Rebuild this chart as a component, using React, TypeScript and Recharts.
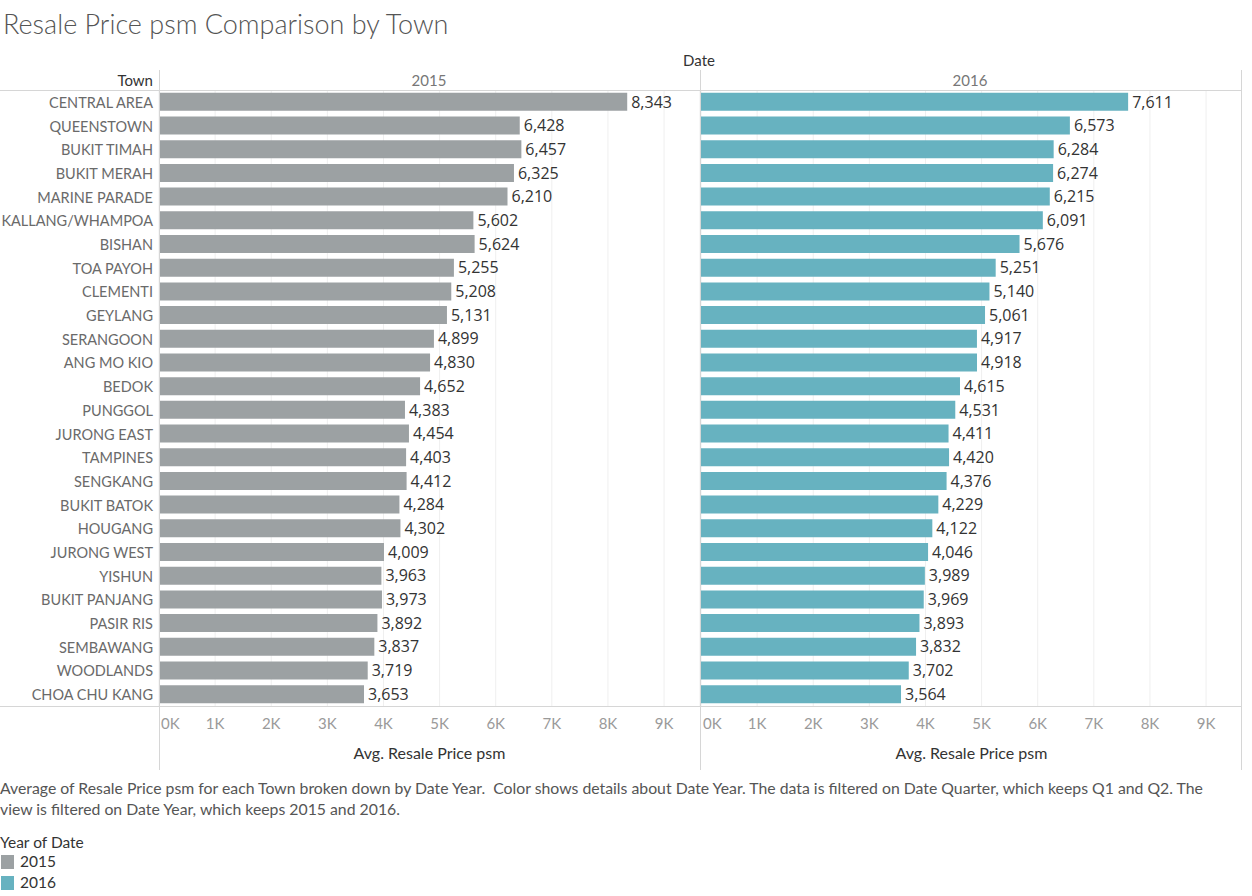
import { Bar, BarChart, CartesianGrid, LabelList, XAxis, YAxis } from "recharts";

const towns = [
  "CENTRAL AREA",
  "QUEENSTOWN",
  "BUKIT TIMAH",
  "BUKIT MERAH",
  "MARINE PARADE",
  "KALLANG/WHAMPOA",
  "BISHAN",
  "TOA PAYOH",
  "CLEMENTI",
  "GEYLANG",
  "SERANGOON",
  "ANG MO KIO",
  "BEDOK",
  "PUNGGOL",
  "JURONG EAST",
  "TAMPINES",
  "SENGKANG",
  "BUKIT BATOK",
  "HOUGANG",
  "JURONG WEST",
  "YISHUN",
  "BUKIT PANJANG",
  "PASIR RIS",
  "SEMBAWANG",
  "WOODLANDS",
  "CHOA CHU KANG",
];

const price2015 = [
  8343, 6428, 6457, 6325, 6210, 5602, 5624, 5255, 5208, 5131, 4899, 4830, 4652,
  4383, 4454, 4403, 4412, 4284, 4302, 4009, 3963, 3973, 3892, 3837, 3719, 3653,
];

const price2016 = [
  7611, 6573, 6284, 6274, 6215, 6091, 5676, 5251, 5140, 5061, 4917, 4918, 4615,
  4531, 4411, 4420, 4376, 4229, 4122, 4046, 3989, 3969, 3893, 3832, 3702, 3564,
];

const xTicks = [0, 1000, 2000, 3000, 4000, 5000, 6000, 7000, 8000, 9000];
const years = ["2015", "2016"];
const yearColors = ["#9ca1a3", "#67b2c0"];

const FONT = "Lato, 'Open Sans', sans-serif";
const LABEL_FONT = "'Open Sans', 'Noto Sans', sans-serif";
const BORDER = "#d6d6d6";

const rows = towns.map((town, i) => ({
  town,
  y2015: price2015[i],
  y2016: price2016[i],
}));

const PLOT_TOP = 90;
const PLOT_H = 616;
const AXIS_H = 64;

function XTick(props: any) {
  const { x, y, payload } = props;
  const v = payload.value as number;
  return (
    <text
      x={v === 0 ? x + 2 : x}
      y={y + 23}
      textAnchor={v === 0 ? "start" : "middle"}
      fill="#9a9a9a"
      fontSize={15}
      fontFamily={FONT}
    >
      {`${v / 1000}K`}
    </text>
  );
}

function TownTick(props: any) {
  const { y, payload } = props;
  return (
    <text
      x={153}
      y={y + 6}
      textAnchor="end"
      fill="#6a6a6a"
      fontSize={14.5}
      fontFamily={FONT}
    >
      {payload.value}
    </text>
  );
}

function Panel({ idx, left, width }: { idx: number; left: number; width: number }) {
  const showTowns = idx === 0;
  return (
    <div style={{ position: "absolute", left, top: PLOT_TOP }}>
      <BarChart
        width={width}
        height={PLOT_H + AXIS_H}
        data={rows}
        layout="vertical"
        margin={{ top: 0, right: 0, bottom: 0, left: 0 }}
        barCategoryGap="12%"
      >
        <CartesianGrid horizontal={false} stroke="#efefef" />
        <XAxis
          type="number"
          domain={[0, 9640]}
          ticks={xTicks}
          height={AXIS_H}
          axisLine={false}
          tickLine={false}
          tickSize={0}
          tickMargin={0}
          tick={<XTick />}
          interval={0}
          label={{
            value: "Avg. Resale Price psm",
            position: "insideBottom",
            offset: 11,
            fill: "#333",
            fontSize: 16,
            fontFamily: FONT,
          }}
        />
        <YAxis
          type="category"
          dataKey="town"
          width={159}
          hide={!showTowns}
          axisLine={false}
          tickLine={false}
          tickSize={0}
          tickMargin={0}
          tick={<TownTick />}
          interval={0}
        />
        <Bar
          dataKey={`y${years[idx]}`}
          fill={yearColors[idx]}
          isAnimationActive={false}
        >
          <LabelList
            position="right"
            offset={4}
            fill="#333"
            fontSize={16}
            fontFamily={LABEL_FONT}
            formatter={(v: any) => Number(v).toLocaleString("en-US")}
          />
        </Bar>
      </BarChart>
    </div>
  );
}

function Line({ x, y, w, h }: { x: number; y: number; w: number; h: number }) {
  return (
    <div
      style={{ position: "absolute", left: x, top: y, width: w, height: h, background: BORDER }}
    />
  );
}

function Txt(props: {
  x: number;
  y: number;
  children: any;
  size?: number;
  color?: string;
  align?: "left" | "center" | "right";
  weight?: number;
}) {
  const { x, y, children, size = 15, color = "#333", align = "left", weight = 400 } = props;
  const w = 400;
  const left = align === "left" ? x : align === "center" ? x - w / 2 : x - w;
  return (
    <div
      style={{
        position: "absolute",
        left,
        top: y - 12,
        width: w,
        height: 24,
        lineHeight: "24px",
        textAlign: align,
        fontSize: size,
        color,
        fontWeight: weight,
        whiteSpace: "nowrap",
        fontFamily: FONT,
      }}
    >
      {children}
    </div>
  );
}

export default function App() {
  return (
    <div
      style={{
        position: "absolute",
        left: 0,
        top: 0,
        width: 1252,
        height: 896,
        background: "#fff",
        fontFamily: FONT,
        overflow: "hidden",
      }}
    >
      <div
        style={{
          position: "absolute",
          left: 3,
          top: 8,
          fontSize: 27,
          lineHeight: "32px",
          color: "#555",
          fontWeight: 300,
          whiteSpace: "nowrap",
        }}
      >
        Resale Price psm Comparison by Town
      </div>

      <Txt x={699} y={60} align="center">Date</Txt>
      <Txt x={153} y={80} align="right">Town</Txt>
      <Txt x={429} y={80} align="center" color="#777">{years[0]}</Txt>
      <Txt x={970} y={80} align="center" color="#777">{years[1]}</Txt>

      <Panel idx={0} left={0} width={700} />
      <Panel idx={1} left={701} width={541} />

      <Line x={0} y={90} w={1242} h={1} />
      <Line x={0} y={706} w={1242} h={1} />
      <Line x={159} y={70} w={1} h={700} />
      <Line x={700} y={70} w={1} h={700} />
      <Line x={1241} y={70} w={1} h={700} />

      <div
        style={{
          position: "absolute",
          left: 0,
          top: 777,
          width: 1232,
          fontSize: 15.8,
          lineHeight: "21px",
          color: "#555",
        }}
      >
        Average of Resale Price psm for each Town broken down by Date Year.&nbsp; Color shows
        details about Date Year. The data is filtered on Date Quarter, which keeps Q1 and Q2. The
        view is filtered on Date Year, which keeps 2015 and 2016.
      </div>

      <Txt x={0} y={842} size={15.5}>Year of Date</Txt>
      {years.map((yr, i) => (
        <div
          key={yr}
          style={{
            position: "absolute",
            left: 1,
            top: 854 + i * 21,
            display: "flex",
            alignItems: "center",
            fontSize: 15.5,
            lineHeight: "15px",
            color: "#333",
          }}
        >
          <span
            style={{ display: "inline-block", width: 13, height: 14, background: yearColors[i], marginRight: 6 }}
          />
          {yr}
        </div>
      ))}
    </div>
  );
}
